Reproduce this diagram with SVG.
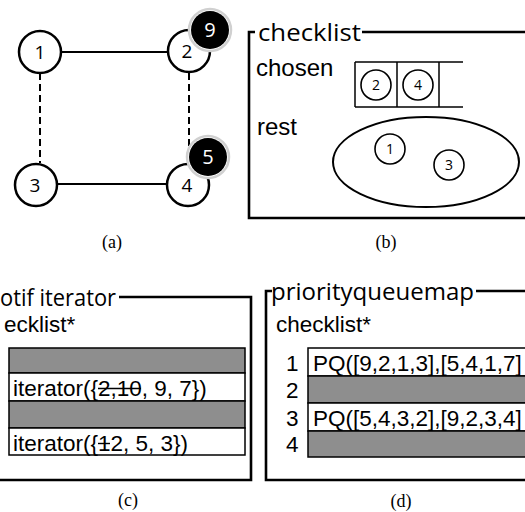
<svg xmlns="http://www.w3.org/2000/svg" width="525" height="512" viewBox="0 0 525 512">
<style>
.node{fill:#fff;stroke:#000;stroke-width:2.5}
.small{fill:#fff;stroke:#000;stroke-width:1.6}
.num{font-family:"Open Sans","Noto Sans",sans-serif;font-size:19px;text-anchor:middle;fill:#000}
.snum{font-family:"Open Sans","Noto Sans",sans-serif;font-size:14px;text-anchor:middle;fill:#000}
.bnum{font-family:"Open Sans","Noto Sans",sans-serif;font-size:20px;text-anchor:middle;fill:#fff}
.halo{fill:#fff;stroke:#d0d0d0;stroke-width:2.5}
.blk{fill:#000}
.edge{stroke:#000;stroke-width:2;fill:none}
.dash{stroke:#000;stroke-width:2;fill:none;stroke-dasharray:7 4}
.frame{stroke:#000;stroke-width:2.6;fill:none}
.title{font-family:"Open Sans","Noto Sans",sans-serif;font-size:24px;fill:#000}
.lbl{font-family:"Liberation Sans",Arial,sans-serif;font-size:24px;fill:#000}
.cell{font-family:"Liberation Sans",Arial,sans-serif;font-size:22.5px;fill:#000}
.cap{font-family:"Liberation Serif","Times New Roman",serif;font-size:18px;text-anchor:middle;fill:#000}
.gray{fill:#8e8e8e;stroke:#000;stroke-width:1.5}
.white{fill:#fff;stroke:#000;stroke-width:1.5}
.thin{stroke:#000;stroke-width:1.5;fill:none}
.strike{stroke:#000;stroke-width:1.4}
</style>

<!-- Panel (a) -->
<g id="connectors">
  <line class="edge" x1="62" y1="52" x2="168" y2="52"/>
  <line class="edge" x1="57" y1="184" x2="167" y2="184"/>
  <line class="dash" x1="40" y1="73" x2="40" y2="163"/>
  <line class="dash" x1="189" y1="73" x2="189" y2="160"/>
</g>
<g id="node1"><circle class="node" cx="40" cy="52" r="21"/><text class="num" x="40" y="59">1</text></g>
<g id="node2"><circle class="node" cx="189" cy="51" r="21"/><text class="num" x="187" y="58">2</text></g>
<g id="node3"><circle class="node" cx="36" cy="185" r="21"/><text class="num" x="35" y="192">3</text></g>
<g id="node4"><circle class="node" cx="188" cy="185" r="21"/><text class="num" x="187" y="192">4</text></g>
<g id="badge9"><circle class="halo" cx="210" cy="30" r="21"/><circle class="blk" cx="210" cy="30" r="19"/><text class="bnum" x="210" y="37">9</text></g>
<g id="badge5"><circle class="halo" cx="208" cy="157" r="21"/><circle class="blk" cx="208" cy="157" r="19"/><text class="bnum" x="208" y="164">5</text></g>
<text class="cap" x="112" y="248">(a)</text>

<!-- Panel (b) -->
<g id="checklist-b">
  <polyline class="frame" points="255,32 249,32 249,218 525,218"/>
  <line class="frame" x1="362" y1="32" x2="525" y2="32"/>
  <text class="title" x="258" y="41" font-size="26" textLength="103" lengthAdjust="spacingAndGlyphs">checklist</text>
  <text class="lbl" x="256" y="76">chosen</text>
  <text class="lbl" x="257" y="135">rest</text>
</g>
<g id="chosen-array">
  <line class="thin" x1="355" y1="62" x2="463" y2="62"/>
  <line class="thin" x1="355" y1="107" x2="463" y2="107"/>
  <line class="thin" x1="355" y1="62" x2="355" y2="107"/>
  <line class="thin" x1="397" y1="62" x2="397" y2="107"/>
  <line class="thin" x1="439" y1="62" x2="439" y2="107"/>
  <circle class="small" cx="376" cy="85" r="15"/><text class="snum" x="376" y="90">2</text>
  <circle class="small" cx="418" cy="85" r="15"/><text class="snum" x="418" y="90">4</text>
</g>
<g id="rest-set">
  <ellipse class="edge" cx="426" cy="162" rx="93" ry="45"/>
  <circle class="small" cx="390" cy="149" r="15"/><text class="snum" x="390" y="154">1</text>
  <circle class="small" cx="449" cy="165" r="15"/><text class="snum" x="449" y="170">3</text>
</g>
<text class="cap" x="386" y="248">(b)</text>

<!-- Panel (c) -->
<g id="motif-iterator">
  <polyline class="frame" points="119,297 251,297 251,480 0,480"/>
  <text class="title" x="0" y="306" textLength="116" lengthAdjust="spacingAndGlyphs">otif iterator</text>
  <text class="cell" x="4" y="332">ecklist*</text>
  <rect class="gray" x="9" y="348" width="236" height="25"/>
  <rect class="white" x="9" y="373" width="236" height="28"/>
  <rect class="gray" x="9" y="401" width="236" height="27"/>
  <rect class="white" x="9" y="428" width="236" height="27"/>
  <text class="cell" x="13" y="396">iterator({2,10, 9, 7})</text>
  <line class="strike" x1="98" y1="388.5" x2="141" y2="388.5"/>
  <text class="cell" x="13" y="451">iterator({12, 5, 3})</text>
  <line class="strike" x1="98" y1="443.5" x2="110" y2="443.5"/>
</g>
<text class="cap" x="128" y="506">(c)</text>

<!-- Panel (d) -->
<g id="priorityqueuemap">
  <polyline class="frame" points="272,291 266,291 266,480 525,480"/>
  <line class="frame" x1="476" y1="291" x2="525" y2="291"/>
  <text class="title" x="271" y="300" textLength="203" lengthAdjust="spacingAndGlyphs">priorityqueuemap</text>
  <text class="cell" x="276" y="332">checklist*</text>
  <rect class="white" x="308" y="348" width="220" height="28"/>
  <rect class="gray" x="308" y="376" width="220" height="27"/>
  <rect class="white" x="308" y="403" width="220" height="28"/>
  <rect class="gray" x="308" y="431" width="220" height="26"/>
  <text class="cell" x="286" y="371">1</text>
  <text class="cell" x="286" y="398">2</text>
  <text class="cell" x="286" y="426">3</text>
  <text class="cell" x="286" y="452">4</text>
  <text class="cell" x="313" y="371">PQ([9,2,1,3],[5,4,1,7]</text>
  <text class="cell" x="313" y="426">PQ([5,4,3,2],[9,2,3,4]</text>
</g>
<text class="cap" x="401" y="507">(d)</text>
</svg>
